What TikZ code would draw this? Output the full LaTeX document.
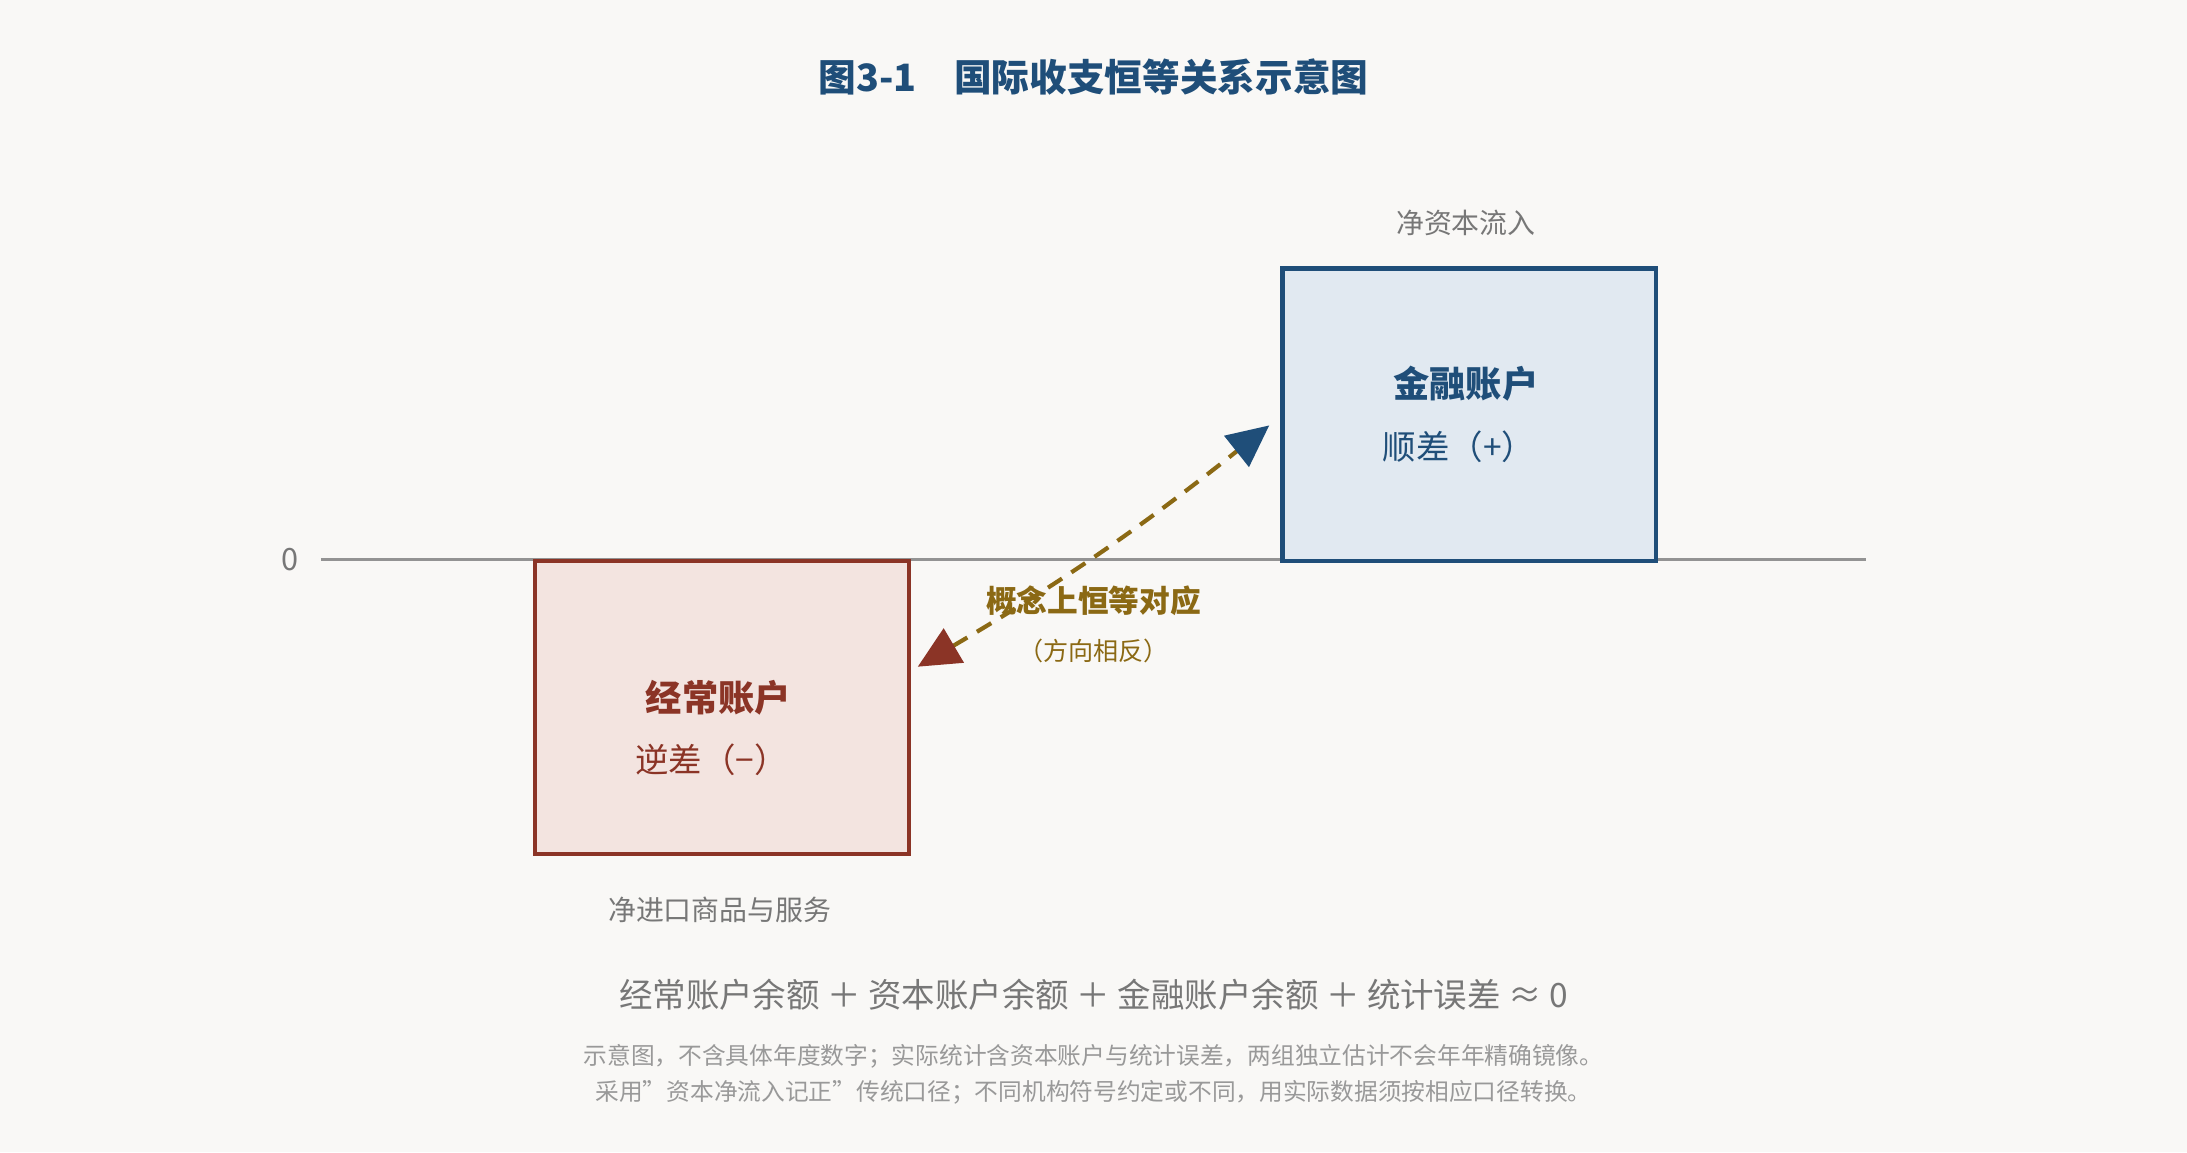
\documentclass[tikz,border=0pt]{standalone}
\usepackage{fontspec}
\setmainfont{Noto Sans CJK SC}
\usetikzlibrary{arrows.meta}
\definecolor{bgpaper}{HTML}{F9F8F6}
\definecolor{navy}{HTML}{1F4E79}
\definecolor{brick}{HTML}{8B3426}
\definecolor{gold}{HTML}{8B6914}
\definecolor{inkgray}{HTML}{777777}
\tikzset{
  acct/.style={draw, line width=3, minimum width=268, minimum height=210, anchor=north west},
  lbl/.style={inner sep=0, font=\fontsize{20}{24}\selectfont, text=inkgray}
}
\begin{document}
\begin{tikzpicture}[x=1pt,y=-1pt]
% background
\fill[bgpaper] (0,0) rectangle (1568,826);
\useasboundingbox (0,0) rectangle (1568,826);

\node (title) at (784,55) [inner sep=0, text=navy, font=\bfseries\fontsize{27}{32}\selectfont] {图3-1\quad 国际收支恒等关系示意图};

% zero line
\coordinate (axl) at (230,401);
\coordinate (axr) at (1338,401);
\draw[line width=2.5, gray!85] (axl) -- (axr);
\node (zero) at (208,401) [lbl, font=\fontsize{22}{26}\selectfont] {0};

% accounts
\node (ca) at (382,401) [acct, draw=brick, fill={rgb,255:red,243;green,228;blue,224}] {};
\node (fa) at (918,191) [acct, draw=navy, fill={rgb,255:red,225;green,233;blue,241}] {};
\node (catitle) at (515,500) [inner sep=0, text=brick, font=\bfseries\fontsize{26}{30}\selectfont] {经常账户};
\node (casign) at (510,545) [inner sep=0, text=brick, font=\fontsize{24}{28}\selectfont] {逆差（−）};
\node (fatitle) at (1051,275) [inner sep=0, text=navy, font=\bfseries\fontsize{26}{30}\selectfont] {金融账户};
\node (fasign) at (1046,320) [inner sep=0, text=navy, font=\fontsize{24}{28}\selectfont] {顺差（+）};
\node (fanote) at (1051,160) [lbl] {净资本流入};
\node (canote) at (516,652) [lbl] {净进口商品与服务};

% link
\coordinate (pa) at (658,478);
\coordinate (pb) at (910,305);
\draw[gold, line width=3, dash pattern=on 12pt off 8pt,
  {Triangle[length=30,width=28,color=brick]}-{Triangle[length=30,width=28,color=navy]}]
  (pa) to[bend right=4] (pb);
\node (linkt) at (784,431) [inner sep=0, text=gold, font=\bfseries\fontsize{22}{26}\selectfont] {概念上恒等对应};
\node (links) at (784,467) [inner sep=0, text=gold, font=\fontsize{18}{22}\selectfont] {（方向相反）};

% identity and notes
\node (eq) at (784,713) [lbl, font=\fontsize{24}{28}\selectfont] {经常账户余额 ＋ 资本账户余额 ＋ 金融账户余额 ＋ 统计误差 ≈ 0};
\node (n1) at (784,757) [lbl, text=gray!80, font=\fontsize{17}{20}\selectfont] {示意图，不含具体年度数字；实际统计含资本账户与统计误差，两组独立估计不会年年精确镜像。};
\node (n2) at (784,783) [lbl, text=gray!80, font=\fontsize{17}{20}\selectfont] {采用"资本净流入记正"传统口径；不同机构符号约定或不同，用实际数据须按相应口径转换。};
\end{tikzpicture}
\end{document}
